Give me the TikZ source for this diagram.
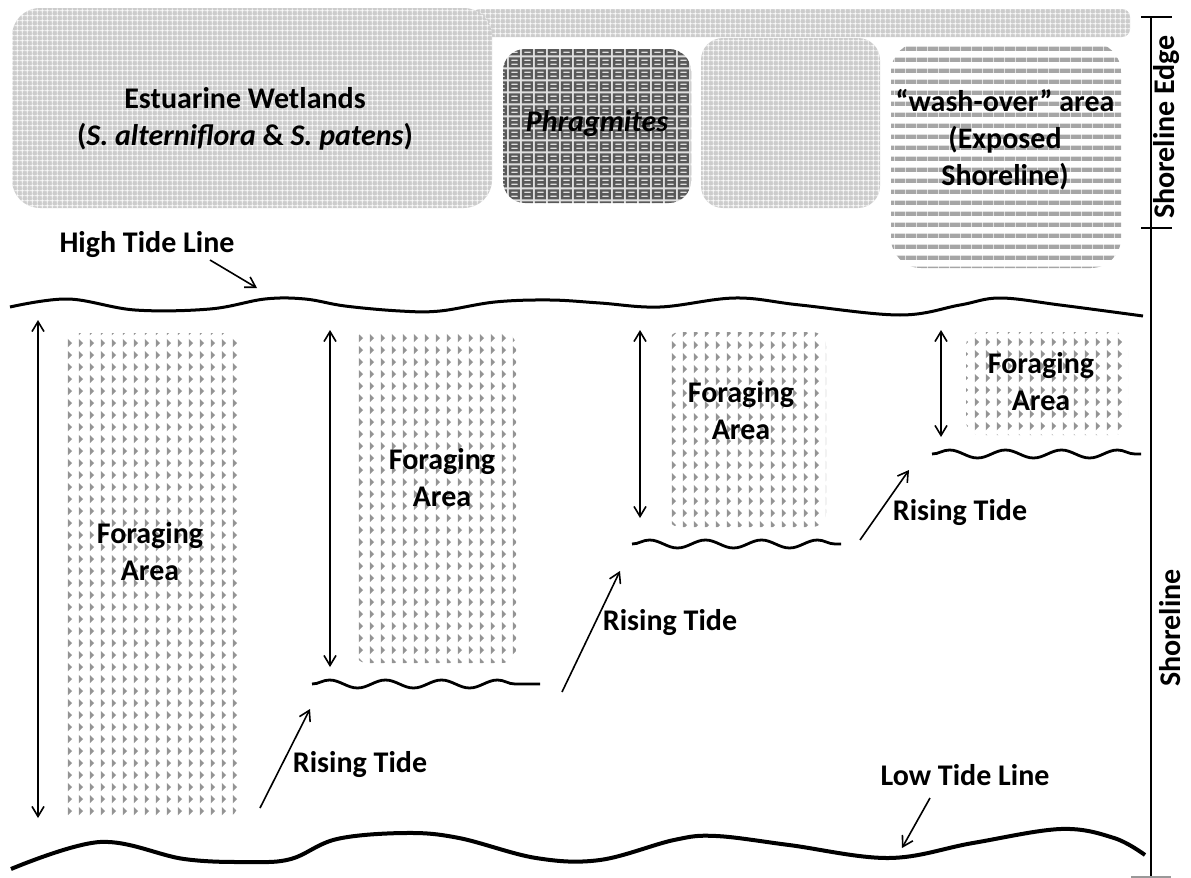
\documentclass[tikz,border=0pt]{standalone}
\usepackage{fontspec}
\setmainfont{Carlito}
\usetikzlibrary{arrows.meta,patterns,decorations.pathmorphing}
\pgfdeclarepatternformonly{foragedots}{\pgfqpoint{0pt}{0pt}}{\pgfqpoint{5.4pt}{6.2pt}}{\pgfqpoint{5.4pt}{6.2pt}}{%
  \pgfpathmoveto{\pgfqpoint{1.4pt}{0.9pt}}%
  \pgfpathlineto{\pgfqpoint{3.6pt}{3.1pt}}%
  \pgfpathlineto{\pgfqpoint{1.4pt}{5.3pt}}%
  \pgfpathclose\pgfusepath{fill}}
\pgfdeclarepatternformonly{reedsquares}{\pgfqpoint{0pt}{0pt}}{\pgfqpoint{6.7pt}{5.85pt}}{\pgfqpoint{6.7pt}{5.85pt}}{%
  \pgfsetlinewidth{1.2pt}%
  \pgfpathrectangle{\pgfqpoint{1.1pt}{0.9pt}}{\pgfqpoint{4.5pt}{4pt}}%
  \pgfpathmoveto{\pgfqpoint{1.1pt}{2.9pt}}\pgfpathlineto{\pgfqpoint{5.6pt}{2.9pt}}%
  \pgfusepath{stroke}}
\pgfdeclarepatternformonly{marshgrid}{\pgfqpoint{0pt}{0pt}}{\pgfqpoint{2.6pt}{2.6pt}}{\pgfqpoint{2.6pt}{2.6pt}}{%
  \pgfsetlinewidth{0.5pt}%
  \pgfpathmoveto{\pgfqpoint{0pt}{1.3pt}}\pgfpathlineto{\pgfqpoint{2.6pt}{1.3pt}}%
  \pgfpathmoveto{\pgfqpoint{1.3pt}{0pt}}\pgfpathlineto{\pgfqpoint{1.3pt}{2.6pt}}%
  \pgfusepath{stroke}}
\pgfdeclarepatternformonly{washstripes}{\pgfqpoint{0pt}{0pt}}{\pgfqpoint{5.6pt}{5.6pt}}{\pgfqpoint{5.6pt}{5.6pt}}{%
  \pgfpathrectangle{\pgfqpoint{0pt}{1.7pt}}{\pgfqpoint{5.6pt}{2.2pt}}%
  \pgfusepath{fill}}
\tikzstyle{line} = [draw, line width=0.8pt, -{Straight Barb[length=5pt,width=6pt]}]
\tikzstyle{span} = [draw, line width=0.8pt, {Straight Barb[length=5pt,width=6pt]}-{Straight Barb[length=5pt,width=6pt]}]
\tikzstyle{lbl} = [font=\fontsize{15}{18.5}\selectfont\bfseries, align=center, inner sep=0pt]
\tikzstyle{marsh} = [fill=black!20, postaction={pattern=marshgrid, pattern color=white}]
\tikzstyle{reeds} = [fill=black!12, postaction={pattern=reedsquares, pattern color=black!65}]
\tikzstyle{washover} = [pattern=washstripes, pattern color=black!35]
\tikzstyle{forage} = [pattern=foragedots, pattern color=black!42, rounded corners=7pt]
\tikzstyle{tide} = [draw, line width=1.4pt, decorate, decoration={snake, segment length=28pt, amplitude=2pt}]

\begin{document}
\begin{tikzpicture}[x=0.5pt, y=-0.5pt]
        \useasboundingbox (0,0) rectangle (1191,878);
        % shoreline edge
        \path[marsh, rounded corners=4pt] (472,9) rectangle (1130,37);
        \path[marsh, rounded corners=14pt] (12,8) rectangle (492,208);
        \path[reeds, rounded corners=11pt] (503,49) rectangle (691,203);
        \path[marsh, rounded corners=11pt] (701,38) rectangle (880,208);
        \path[washover, rounded corners=15pt] (891,42) rectangle (1121,268);
        \node[lbl] (wetlands) at (245,119) {Estuarine Wetlands\\(\textit{S. alterniflora} \& \textit{S. patens})};
        \node[lbl] (phrag) at (597,124) {\textit{Phragmites}};
        \node[lbl] (wash) at (1005,140) {“wash-over” area\\(Exposed\\Shoreline)};
        % scale on the right
        \draw[line width=1pt] (1151,17) -- (1151,878);
        \draw[line width=1pt] (1141,17) -- (1172,17);
        \draw[line width=1pt] (1141,228) -- (1172,228);
        \draw[black!40, line width=0.6pt] (1131,877) -- (1171,877);
        \node[lbl, rotate=90] (edge) at (1167,127) {Shoreline Edge};
        \node[lbl, rotate=90] (shore) at (1170,628) {Shoreline};
        % high and low tide lines
        \draw[line width=1.5pt] plot[smooth, tension=0.6] coordinates {(10,307) (68,299) (135,310) (210,309) (265,299) (305,299) (345,306) (400,311) (440,311) (495,302) (550,300) (600,303) (660,307) (735,298) (800,305) (900,315) (960,305) (1000,298) (1060,305) (1143,316)};
        \draw[line width=2pt] plot[smooth, tension=0.6] coordinates {(11,869) (100,842) (184,859) (249,862) (291,859) (337,839) (406,833) (459,838) (536,858) (600,860) (674,840) (716,836) (789,845) (889,858) (973,843) (1061,829) (1114,838) (1145,855)};
        \node[lbl] (high) at (147,245) {High Tide Line};
        \node[lbl] (low) at (965,775) {Low Tide Line};
        \coordinate (hs) at (210,260);
        \coordinate (he) at (257,288);
        \coordinate (ls) at (930,798);
        \coordinate (le) at (902,848);
        \path[line] (hs) -- (he);
        \path[line] (ls) -- (le);
        % foraging areas
        \path[forage] (62,333) rectangle (238,818);
        \path[forage] (353,332) rectangle (516,663);
        \path[forage] (666,332) rectangle (826,527);
        \path[forage] (966,332) rectangle (1128,435);
        \node[lbl] (fa1) at (150,552) {Foraging\\Area};
        \node[lbl] (fa2) at (442,478) {Foraging\\Area};
        \node[lbl] (fa3) at (741,411) {Foraging\\Area};
        \node[lbl] (fa4) at (1041,382) {Foraging\\Area};
        \coordinate (d1t) at (38,320);
        \coordinate (d1b) at (38,818);
        \coordinate (d2t) at (330,330);
        \coordinate (d2b) at (330,667);
        \coordinate (d3t) at (640,330);
        \coordinate (d3b) at (640,518);
        \coordinate (d4t) at (941,330);
        \coordinate (d4b) at (941,437);
        \path[span] (d1t) -- (d1b);
        \path[span] (d2t) -- (d2b);
        \path[span] (d3t) -- (d3b);
        \path[span] (d4t) -- (d4b);
        % rising tide steps
        \coordinate (w1l) at (312,684);
        \coordinate (w1r) at (540,684);
        \coordinate (w2l) at (632,544);
        \coordinate (w2r) at (841,544);
        \coordinate (w3l) at (932,454);
        \coordinate (w3r) at (1141,454);
        \path[tide] (w1l) -- (w1r);
        \path[tide] (w2l) -- (w2r);
        \path[tide] (w3l) -- (w3r);
        \node[lbl] (rt1) at (360,765) {Rising Tide};
        \node[lbl] (rt2) at (670,623) {Rising Tide};
        \node[lbl] (rt3) at (960,513) {Rising Tide};
        \coordinate (r1s) at (260,808);
        \coordinate (r1e) at (310,709);
        \coordinate (r2s) at (562,692);
        \coordinate (r2e) at (620,571);
        \coordinate (r3s) at (860,540);
        \coordinate (r3e) at (909,470);
        \path[line] (r1s) -- (r1e);
        \path[line] (r2s) -- (r2e);
        \path[line] (r3s) -- (r3e);
\end{tikzpicture}
\end{document}
